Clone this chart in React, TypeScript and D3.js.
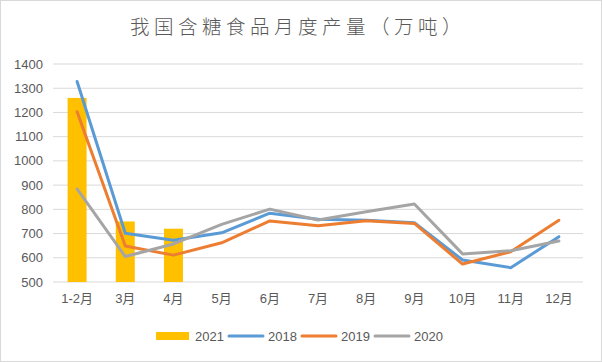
import React from 'react';
import * as d3 from 'd3';

const months = ['1-2月', '3月', '4月', '5月', '6月', '7月', '8月', '9月', '10月', '11月', '12月'];
const yTicks = [500, 600, 700, 800, 900, 1000, 1100, 1200, 1300, 1400];

const bar2021 = [1260, 750, 720];
const line2018 = [1328, 701, 672, 703, 784, 759, 755, 745, 591, 559, 687];
const line2019 = [1203, 649, 611, 662, 752, 732, 753, 742, 574, 625, 755];
const line2020 = [884, 605, 657, 738, 801, 756, 790, 822, 616, 629, 669];

const lineSeries = [
  { name: '2018', values: line2018, color: '#5B9BD5' },
  { name: '2019', values: line2019, color: '#ED7D31' },
  { name: '2020', values: line2020, color: '#A5A5A5' },
];

const W = 602;
const H = 362;
const margin = { top: 64, right: 19, bottom: 80, left: 53 };
const font = '"Liberation Sans", "Noto Sans CJK SC", sans-serif';

export default function App() {
  const x = d3
    .scaleBand<string>()
    .domain(months)
    .range([margin.left, W - margin.right]);
  const y = d3
    .scaleLinear()
    .domain([500, 1400])
    .range([H - margin.bottom, margin.top]);

  const cx = (i: number) => (x(months[i]) as number) + x.bandwidth() / 2;
  const barW = 19;

  const line = d3
    .line<number>()
    .x((_, i) => cx(i))
    .y((d) => y(d));

  const legend = [
    { name: '2021', type: 'bar', color: '#FFC000', x: 156 },
    { name: '2018', type: 'line', color: '#5B9BD5', x: 229 },
    { name: '2019', type: 'line', color: '#ED7D31', x: 302 },
    { name: '2020', type: 'line', color: '#A5A5A5', x: 375 },
  ];

  return (
    <svg
      width={W}
      height={H}
      style={{ position: 'absolute', left: 0, top: 0, background: '#fff' }}
    >
      <rect x={0.5} y={0.5} width={W - 1} height={H - 1} fill="#fff" stroke="#d9d9d9" />
      <text
        x={298}
        y={34}
        textAnchor="middle"
        fill="#595959"
        fontSize={19.5}
        letterSpacing={4.5}
        fontFamily='"Noto Sans CJK SC", sans-serif'
        fontWeight={300}
      >
        我国含糖食品月度产量（万吨）
      </text>

      {yTicks.map((t) => (
        <g key={t}>
          <line
            x1={margin.left}
            x2={W - margin.right}
            y1={y(t)}
            y2={y(t)}
            stroke="#d9d9d9"
            strokeWidth={1}
          />
          <text
            x={43}
            y={y(t) + 4.5}
            textAnchor="end"
            fill="#595959"
            fontSize={13}
            fontFamily={font}
          >
            {t}
          </text>
        </g>
      ))}

      {bar2021.map((v, i) => (
        <rect
          key={i}
          x={cx(i) - barW / 2}
          y={y(v)}
          width={barW}
          height={y(500) - y(v)}
          fill="#FFC000"
        />
      ))}

      {lineSeries.map((s) => (
        <path
          key={s.name}
          d={line(s.values) || ''}
          fill="none"
          stroke={s.color}
          strokeWidth={3}
          strokeLinejoin="round"
          strokeLinecap="round"
        />
      ))}

      {months.map((m, i) => (
        <text
          key={m}
          x={cx(i)}
          y={y(500) + 21}
          textAnchor="middle"
          fill="#595959"
          fontSize={13}
          fontFamily={font}
        >
          {m}
        </text>
      ))}

      {legend.map((l) => (
        <g key={l.name}>
          {l.type === 'bar' ? (
            <rect x={l.x} y={332} width={33} height={8} fill={l.color} />
          ) : (
            <line
              x1={l.x}
              x2={l.x + 34}
              y1={336}
              y2={336}
              stroke={l.color}
              strokeWidth={3}
              strokeLinecap="round"
            />
          )}
          <text
            x={l.x + 39}
            y={341}
            fill="#595959"
            fontSize={13}
            fontFamily={font}
          >
            {l.name}
          </text>
        </g>
      ))}
    </svg>
  );
}
